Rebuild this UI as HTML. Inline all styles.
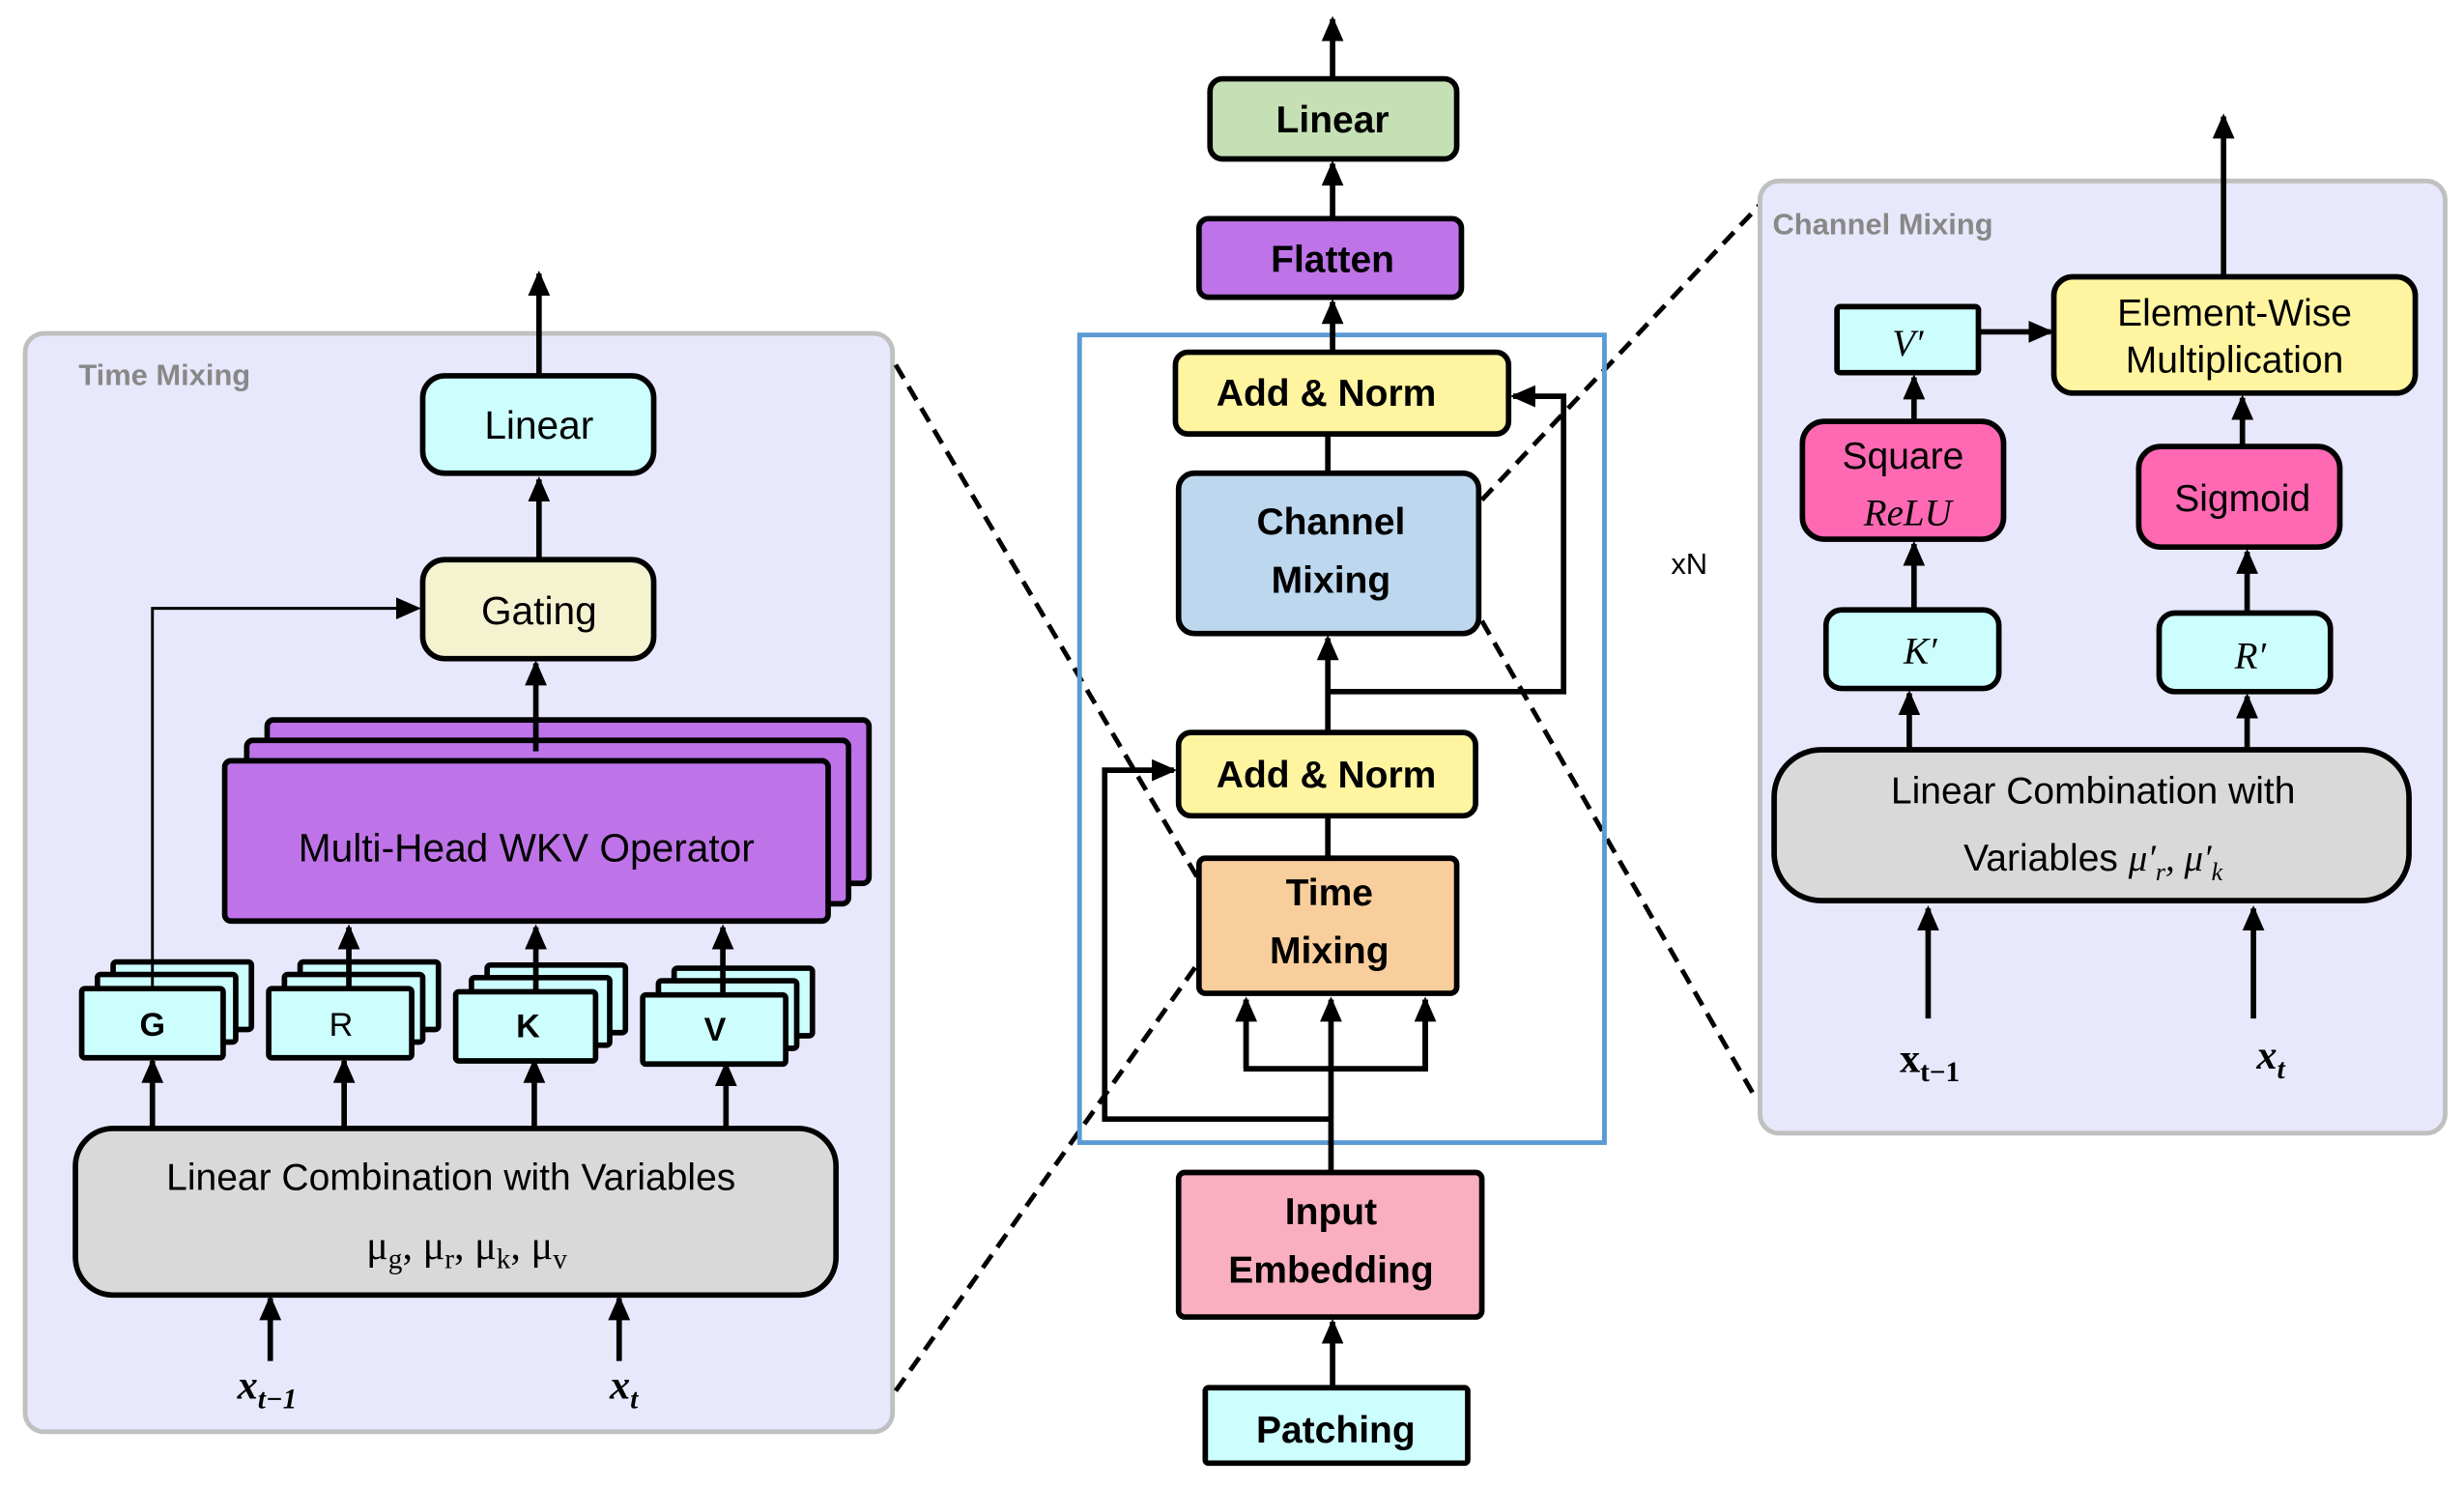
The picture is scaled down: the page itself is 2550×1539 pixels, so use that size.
<!DOCTYPE html>
<html><head><meta charset="utf-8"><style>html,body{margin:0;padding:0;background:#fff}svg{display:block}</style></head>
<body>
<svg width="2550" height="1539" viewBox="0 0 1568 946" xmlns="http://www.w3.org/2000/svg" font-family="Liberation Sans, sans-serif">
<defs>
<marker id="a" markerWidth="8" markerHeight="8" refX="6" refY="4" orient="auto" markerUnits="userSpaceOnUse" viewBox="0 0 8 8"><path d="M0,0 L8,4 L0,8 z" fill="#000"/></marker>
<marker id="b" markerWidth="16" markerHeight="14" refX="14" refY="7" orient="auto" markerUnits="userSpaceOnUse"><path d="M0,0 L16,7 L0,14 z" fill="#000"/></marker>
</defs>
<g stroke="#000" stroke-width="3.5" fill="none">
<!-- left panel -->
<rect x="16" y="212" width="552" height="699" rx="12" fill="#e8e8fc" stroke="#c0c0c0" stroke-width="3"/>
<rect x="269" y="239" width="147" height="62" rx="14" fill="#ccfefe"/>
<rect x="269" y="356" width="147" height="63" rx="14" fill="#f5f2d0"/>
<line x1="343" y1="239" x2="343" y2="174" marker-end="url(#b)"/>
<line x1="343" y1="356" x2="343" y2="305" marker-end="url(#b)"/>
<rect x="170" y="458" width="383" height="104" rx="4" fill="#be74e8"/>
<rect x="157" y="471" width="383" height="104" rx="4" fill="#be74e8"/>
<rect x="143" y="484" width="384" height="102" rx="4" fill="#be74e8"/>
<line x1="341" y1="478" x2="341" y2="422" marker-end="url(#b)"/>
<g fill="#ccfefe">
<rect x="72" y="612" width="88" height="43" rx="2"/><rect x="62" y="620" width="88" height="43" rx="2"/><rect x="52" y="629" width="90" height="44" rx="2"/>
<rect x="191" y="612" width="88" height="43" rx="2"/><rect x="181" y="620" width="88" height="43" rx="2"/><rect x="171" y="629" width="91" height="44" rx="2"/>
<rect x="310" y="614" width="88" height="43" rx="2"/><rect x="300" y="622" width="88" height="43" rx="2"/><rect x="290" y="631" width="89" height="44" rx="2"/>
<rect x="429" y="616" width="88" height="43" rx="2"/><rect x="419" y="624" width="88" height="43" rx="2"/><rect x="409" y="633" width="91" height="44" rx="2"/>
</g>
<polyline points="97,628 97,387 266,387" stroke-width="1.8" marker-end="url(#b)"/>
<line x1="222" y1="628" x2="222" y2="590" marker-end="url(#b)"/>
<line x1="341" y1="630" x2="341" y2="590" marker-end="url(#b)"/>
<line x1="460" y1="632" x2="460" y2="590" marker-end="url(#b)"/>
<rect x="48" y="718" width="484" height="106" rx="24" fill="#d9d9d9"/>
<line x1="97" y1="718" x2="97" y2="675" marker-end="url(#b)"/>
<line x1="219" y1="718" x2="219" y2="675" marker-end="url(#b)"/>
<line x1="340" y1="718" x2="340" y2="675" marker-end="url(#b)"/>
<line x1="462" y1="718" x2="462" y2="677" marker-end="url(#b)"/>
<line x1="172" y1="866" x2="172" y2="826" marker-end="url(#b)"/>
<line x1="394" y1="866" x2="394" y2="826" marker-end="url(#b)"/>
<!-- dashed -->
<g stroke-width="3" stroke-dasharray="10,6">
<line x1="570" y1="232" x2="763" y2="560"/>
<line x1="570" y1="885" x2="763" y2="612"/>
<line x1="943" y1="318" x2="1120" y2="130"/>
<line x1="943" y1="395" x2="1118" y2="700"/>
</g>
<!-- center -->
<rect x="687" y="213" width="334" height="514" stroke="#5b9bd5" stroke-width="3"/>
<rect x="770" y="50" width="157" height="51" rx="8" fill="#c5e0b4"/>
<line x1="848" y1="50" x2="848" y2="12" marker-end="url(#b)"/>
<rect x="763" y="139" width="167" height="50" rx="6" fill="#be74e8"/>
<line x1="848" y1="139" x2="848" y2="104" marker-end="url(#b)"/>
<rect x="748" y="224" width="212" height="52" rx="8" fill="#fff4a0"/>
<line x1="848" y1="224" x2="848" y2="192" marker-end="url(#b)"/>
<line x1="845" y1="301" x2="845" y2="276"/>
<rect x="750" y="301" width="191" height="102" rx="10" fill="#bdd7ee"/>
<line x1="845" y1="466" x2="845" y2="406" marker-end="url(#b)"/>
<polyline points="845,440 995,440 995,252 963,252" marker-end="url(#b)"/>
<rect x="750" y="466" width="189" height="53" rx="8" fill="#fff4a0"/>
<line x1="845" y1="546" x2="845" y2="519"/>
<rect x="763" y="546" width="164" height="86" rx="4" fill="#f8cf9c"/>
<polyline points="793,636 793,680 907,680 907,636"/>
<line x1="793" y1="680" x2="793" y2="636" marker-end="url(#b)"/>
<line x1="907" y1="680" x2="907" y2="636" marker-end="url(#b)"/>
<line x1="847" y1="746" x2="847" y2="636" marker-end="url(#b)"/>
<polyline points="847,712 703,712 703,490 747,490" marker-end="url(#b)"/>
<rect x="750" y="746" width="193" height="92" rx="4" fill="#f9afc0"/>
<line x1="848" y1="883" x2="848" y2="841" marker-end="url(#b)"/>
<rect x="767" y="883" width="167" height="48" rx="2" fill="#ccfefe"/>
<!-- right -->
<rect x="1120" y="115" width="436" height="606" rx="12" fill="#e8e8fc" stroke="#c0c0c0" stroke-width="3"/>
<rect x="1307" y="176" width="230" height="74" rx="12" fill="#fff5a0"/>
<line x1="1415" y1="176" x2="1415" y2="74" marker-end="url(#b)"/>
<rect x="1169" y="195" width="90" height="42" rx="2" fill="#ccfefe"/>
<line x1="1259" y1="211" x2="1305" y2="211" marker-end="url(#b)"/>
<rect x="1147" y="268" width="128" height="75" rx="14" fill="#ff69b4"/>
<line x1="1218" y1="268" x2="1218" y2="240" marker-end="url(#b)"/>
<rect x="1162" y="388" width="110" height="50" rx="10" fill="#ccfefe"/>
<line x1="1218" y1="388" x2="1218" y2="346" marker-end="url(#b)"/>
<rect x="1361" y="284" width="128" height="64" rx="14" fill="#ff69b4"/>
<line x1="1427" y1="284" x2="1427" y2="253" marker-end="url(#b)"/>
<rect x="1374" y="390" width="109" height="50" rx="10" fill="#ccfefe"/>
<line x1="1430" y1="390" x2="1430" y2="351" marker-end="url(#b)"/>
<rect x="1129" y="477" width="404" height="96" rx="30" fill="#d9d9d9"/>
<line x1="1215" y1="477" x2="1215" y2="441" marker-end="url(#b)"/>
<line x1="1430" y1="477" x2="1430" y2="443" marker-end="url(#b)"/>
<line x1="1227" y1="648" x2="1227" y2="578" marker-end="url(#b)"/>
<line x1="1434" y1="648" x2="1434" y2="578" marker-end="url(#b)"/>
</g>
<g text-anchor="middle" fill="#000">
<text x="50" y="245" text-anchor="start" font-size="19" font-weight="bold" fill="#888">Time Mixing</text>
<text x="343" y="279" font-size="25">Linear</text>
<text x="343" y="397" font-size="25">Gating</text>
<text x="335" y="548" font-size="25">Multi-Head WKV Operator</text>
<text x="97" y="659" font-size="21" font-weight="bold">G</text>
<text x="217" y="659" font-size="21">R</text>
<text x="336" y="660" font-size="21" font-weight="bold">K</text>
<text x="455" y="662" font-size="21" font-weight="bold">V</text>
<text x="287" y="757" font-size="24">Linear Combination with Variables</text>
<text x="297" y="801" font-size="26" font-family="Liberation Serif, serif">μ<tspan font-size="18" dy="6">g</tspan><tspan dy="-6">, μ</tspan><tspan font-size="18" dy="6">r</tspan><tspan dy="-6">, μ</tspan><tspan font-size="18" dy="6">k</tspan><tspan dy="-6">, μ</tspan><tspan font-size="18" dy="6">v</tspan></text>
<text x="170" y="890" font-size="26" font-weight="bold" font-style="italic" font-family="Liberation Serif, serif">x<tspan font-size="18" dy="6">t−1</tspan></text>
<text x="397" y="890" font-size="26" font-weight="bold" font-style="italic" font-family="Liberation Serif, serif">x<tspan font-size="18" dy="6">t</tspan></text>
<g font-weight="bold" font-size="24">
<text x="848" y="84">Linear</text>
<text x="848" y="173">Flatten</text>
<text x="844" y="258">Add &amp; Norm</text>
<text x="847" y="340">Channel</text>
<text x="847" y="377">Mixing</text>
<text x="844" y="501">Add &amp; Norm</text>
<text x="846" y="576">Time</text>
<text x="846" y="613">Mixing</text>
<text x="847" y="779">Input</text>
<text x="847" y="816">Embedding</text>
<text x="850" y="918">Patching</text>
</g>
<text x="1075" y="365" font-size="19">xN</text>
<text x="1128" y="149" text-anchor="start" font-size="19" font-weight="bold" fill="#888">Channel Mixing</text>
<text x="1422" y="207" font-size="24">Element-Wise</text>
<text x="1422" y="237" font-size="24">Multiplication</text>
<text x="1214" y="226" font-size="24" font-style="italic" font-family="Liberation Serif, serif">V′</text>
<text x="1211" y="298" font-size="24">Square</text>
<text x="1214" y="334" font-size="24" font-style="italic" font-family="Liberation Serif, serif">ReLU</text>
<text x="1427" y="325" font-size="24">Sigmoid</text>
<text x="1222" y="422" font-size="24" font-style="italic" font-family="Liberation Serif, serif">K′</text>
<text x="1432" y="425" font-size="24" font-style="italic" font-family="Liberation Serif, serif">R′</text>
<text x="1332" y="511" font-size="24">Linear Combination with</text>
<text x="1332" y="554" font-size="24">Variables <tspan font-family="Liberation Serif, serif" font-style="italic">μ′<tspan font-size="16" dy="6">r</tspan><tspan dy="-6">, μ′</tspan><tspan font-size="16" dy="6">k</tspan></tspan></text>
<text x="1228" y="682" font-size="26" font-weight="bold" font-family="Liberation Serif, serif">x<tspan font-size="18" dy="6">t−1</tspan></text>
<text x="1445" y="680" font-size="26" font-weight="bold" font-style="italic" font-family="Liberation Serif, serif">x<tspan font-size="18" dy="6">t</tspan></text>
</g>
</svg>
</body></html>
